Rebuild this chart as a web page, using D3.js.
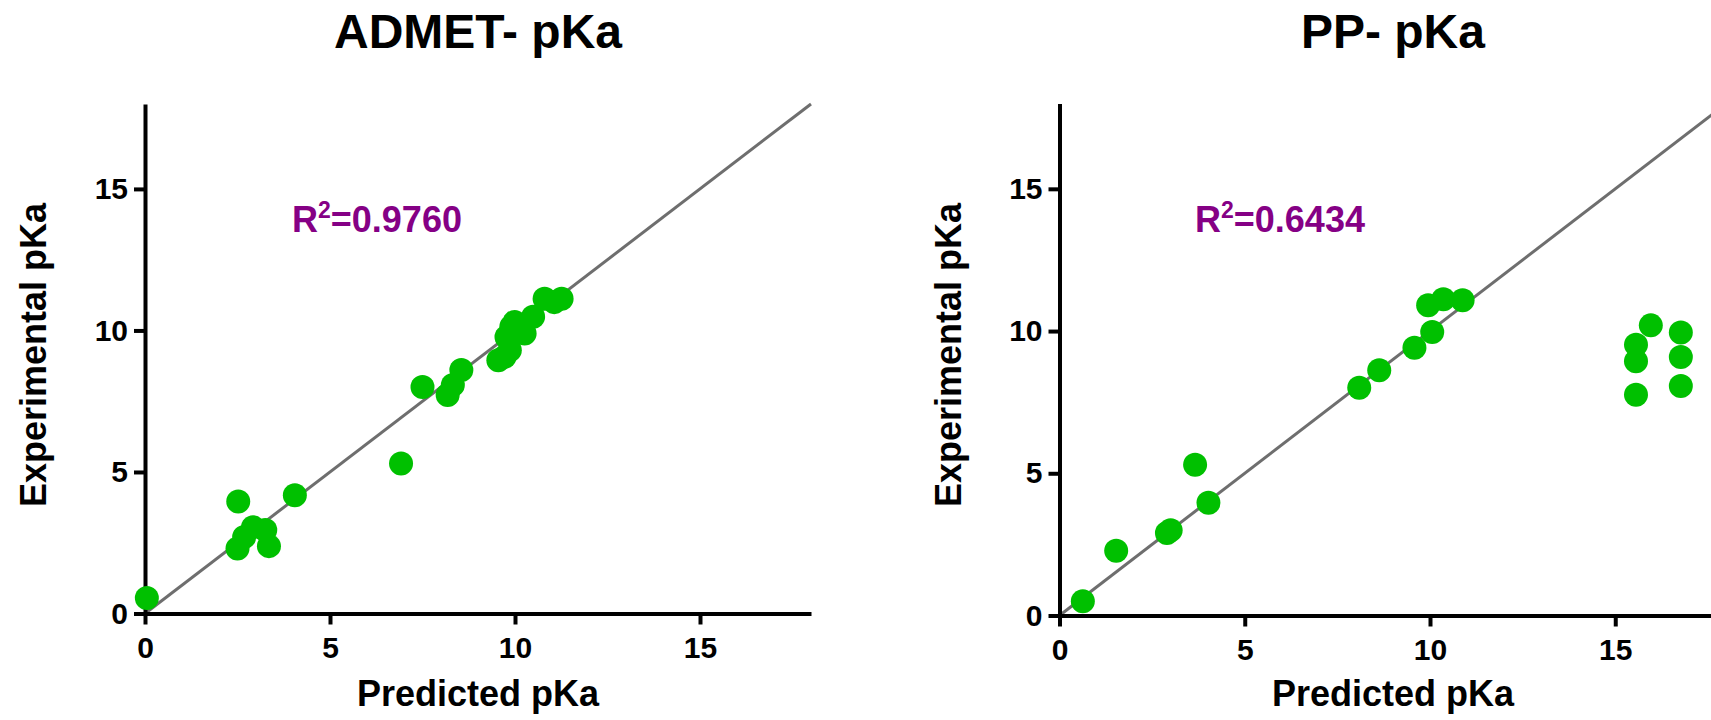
<!DOCTYPE html>
<html>
<head>
<meta charset="utf-8">
<script src="https://cdn.jsdelivr.net/npm/d3@7"></script>
<style>
  body { margin: 0; background: #ffffff; }
  svg { display: block; }
  text { font-family: "Liberation Sans", Arial, sans-serif; font-weight: bold; }
</style>
</head>
<body>
<svg id="chart" width="1711" height="720"></svg>
<script>
// ADMET predictions vs experimental pKa
const admetPredicted    = [0.05, 2.5, 2.68, 2.92, 3.25, 3.35, 2.52, 4.05, 6.92, 7.5, 8.18, 8.32, 8.55, 9.55, 9.72, 9.86, 9.77, 9.9, 9.99, 10.26, 10.49, 10.8, 11.06, 11.26];
const admetExperimental = [0.55, 2.3, 2.7, 3.05, 2.95, 2.38, 3.96, 4.18, 5.3, 8.0, 7.72, 8.07, 8.6, 8.95, 9.07, 9.3, 9.77, 10.13, 10.3, 9.89, 10.48, 11.12, 11.0, 11.12];

// PP predictions vs experimental pKa
const ppPredicted    = [0.63, 1.53, 2.9, 3.0, 4.02, 3.66, 8.09, 8.63, 9.58, 10.06, 9.95, 10.36, 10.88, 15.56, 15.56, 15.56, 15.96, 16.77, 16.77, 16.77];
const ppExperimental = [0.5, 2.28, 2.9, 3.0, 3.96, 5.3, 8.01, 8.62, 9.41, 9.97, 10.91, 11.12, 11.08, 9.52, 8.94, 7.76, 10.2, 9.95, 9.09, 8.07];

const axisTicks   = [0, 5, 10, 15];
const axisMax     = 18;
const panelTitles = ["ADMET- pKa", "PP- pKa"];
const r2Values    = ["0.9760", "0.6434"];
const xTitle      = "Predicted pKa";
const yTitle      = "Experimental pKa";

const panels = [
  { title: panelTitles[0], r2: r2Values[0], px: admetPredicted, ey: admetExperimental,
    left: 145, right: 811, top: 104, bottom: 613.5, r2x: 292, r2y: 232 },
  { title: panelTitles[1], r2: r2Values[1], px: ppPredicted, ey: ppExperimental,
    left: 1059.5, right: 1726.4, top: 103.5, bottom: 615.5, r2x: 1195, r2y: 232 }
];

const svg = d3.select("#chart");
svg.append("rect").attr("width", 1711).attr("height", 720).attr("fill", "#ffffff");

panels.forEach(p => {
  const x = d3.scaleLinear().domain([0, axisMax]).range([p.left, p.right]);
  const y = d3.scaleLinear().domain([0, axisMax]).range([p.bottom, p.top]);
  const g = svg.append("g");

  // identity line y = x
  g.append("line")
    .attr("x1", x(0)).attr("y1", y(0))
    .attr("x2", x(axisMax)).attr("y2", y(axisMax))
    .attr("stroke", "#6e6e6e").attr("stroke-width", 3);

  // axes
  const xAxis = g.append("g")
    .attr("transform", `translate(0,${p.bottom})`)
    .call(d3.axisBottom(x).tickValues(axisTicks).tickSize(11).tickSizeOuter(0).tickPadding(12));
  const yAxis = g.append("g")
    .attr("transform", `translate(${p.left},0)`)
    .call(d3.axisLeft(y).tickValues(axisTicks).tickSize(11).tickSizeOuter(0).tickPadding(6));

  [xAxis, yAxis].forEach(a => {
    a.select(".domain").attr("stroke", "#000").attr("stroke-width", 4);
    a.selectAll(".tick line").attr("stroke", "#000").attr("stroke-width", 4);
    a.selectAll(".tick text")
      .attr("fill", "#000")
      .style("font-size", "30px")
      .style("font-family", "'Liberation Sans', Arial, sans-serif")
      .style("font-weight", "bold");
  });

  // points
  const pts = p.px.map((v, i) => ({ pred: v, exp: p.ey[i] }));
  g.selectAll("circle.pt").data(pts).enter().append("circle")
    .attr("class", "pt")
    .attr("cx", d => x(d.pred))
    .attr("cy", d => y(d.exp))
    .attr("r", 12)
    .attr("fill", "#00c000");

  // panel title
  const cx = (x(0) + x(axisMax)) / 2;
  g.append("text")
    .attr("x", cx).attr("y", 48)
    .attr("text-anchor", "middle")
    .style("font-size", "48px")
    .attr("fill", "#000")
    .text(p.title);

  // axis titles
  g.append("text")
    .attr("x", cx).attr("y", 706)
    .attr("text-anchor", "middle")
    .style("font-size", "36px")
    .attr("fill", "#000")
    .text(xTitle);

  g.append("text")
    .attr("transform", `translate(${p.left - 99},355) rotate(-90)`)
    .attr("text-anchor", "middle")
    .style("font-size", "36px")
    .attr("fill", "#000")
    .text(yTitle);

  // R squared annotation
  const r2 = g.append("text")
    .attr("x", p.r2x).attr("y", p.r2y)
    .style("font-size", "36px")
    .attr("fill", "#850085");
  r2.append("tspan").text("R");
  r2.append("tspan").attr("dy", -14).style("font-size", "23px").text("2");
  r2.append("tspan").attr("dy", 14).text("=" + p.r2);
});
</script>
</body>
</html>
